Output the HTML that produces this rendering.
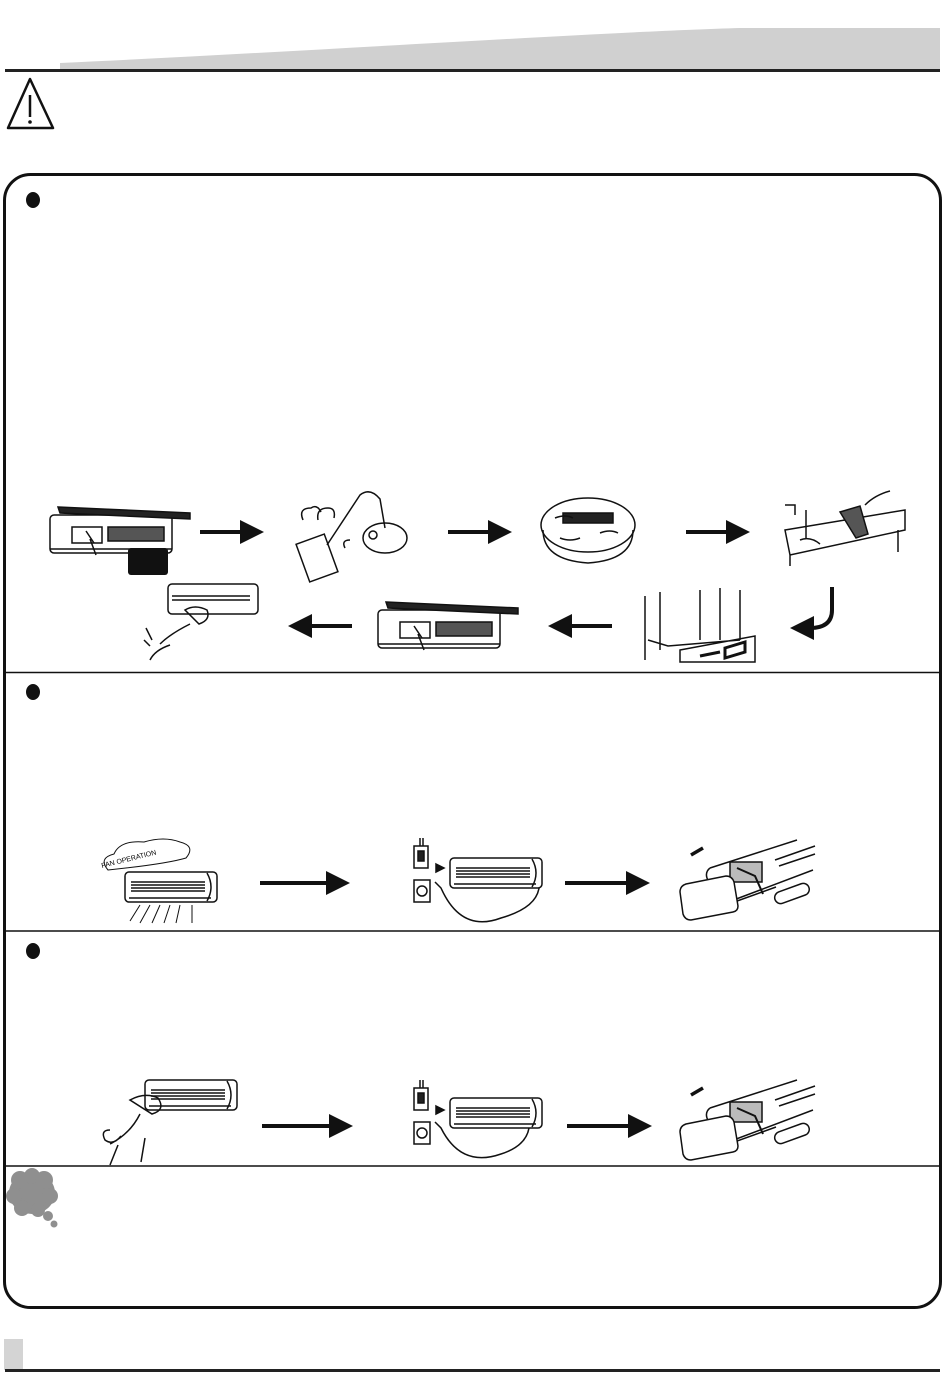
<!DOCTYPE html>
<html><head><meta charset="utf-8"><style>
html,body{margin:0;padding:0;background:#fff}
svg{display:block}
text{font-family:"Liberation Sans",sans-serif}
</style></head><body>
<svg width="950" height="1383" viewBox="0 0 950 1383" xmlns="http://www.w3.org/2000/svg">
<defs>
<marker id="ah" markerWidth="6" markerHeight="6" refX="1" refY="3" orient="auto" markerUnits="strokeWidth"><path d="M0,0 L6,3 L0,6 z" fill="#111"/></marker>
<g id="acopen" fill="none" stroke="#111" stroke-width="1.5">
<rect x="0" y="10" width="122" height="38" rx="4" fill="#fff"/>
<path d="M8 2 L140 8 L140 14 L10 8 Z" fill="#222"/>
<rect x="58" y="22" width="56" height="14" fill="#555"/>
<rect x="22" y="22" width="30" height="16"/>
<path d="M0 44 H122"/>
<path d="M36 26 l8 12 M40 34 l6 16"/>
</g>
<g id="acunit" fill="none" stroke="#111" stroke-width="1.5">
<rect x="0" y="0" width="92" height="30" rx="4" fill="#fff"/>
<path d="M82 1 q8 14 0 28"/>
<path d="M6 10 H80 M6 13 H80 M6 16 H80 M6 19 H80"/>
<path d="M4 26 H86"/>
</g>
<g id="remote" fill="none" stroke="#111" stroke-width="1.5">
<path d="M35 28 L122 0 M48 64 L138 30 M100 20 L140 6 M104 26 L140 14"/>
<path d="M35 28 q-5 4-3 10 l10 24 q3 5 9 3 l50 -18"/>
<rect x="55" y="22" width="32" height="20" fill="#bbb"/>
<path d="M62 28 l18 8 l8 18" stroke-width="2"/>
<rect x="98" y="54" width="36" height="12" rx="6" transform="rotate(-20 98 54)" fill="#fff"/>
<path d="M5 52 q0-6 6-8 l40-8 q6 0 8 6 l4 24 q0 5-5 6 l-42 8 q-6 0-8-6z" fill="#fff"/>
<path d="M28 8 l-12 7" stroke-width="3.5"/>
</g>
<g id="wall" fill="none" stroke="#111" stroke-width="1.5">
<rect x="0" y="0" width="14" height="22" fill="#fff"/>
<rect x="4" y="5" width="6" height="10" fill="#222"/>
<path d="M6 0 V-8 M9 0 V-8"/>
<rect x="0" y="34" width="16" height="22" fill="#fff"/>
<circle cx="8" cy="45" r="5"/>
<path d="M22 18 l8 4 l-8 4z" fill="#111"/>
</g>
</defs>

<!-- header -->
<path d="M60 63 C300 52 600 32 740 28 L940 28 L940 69 L60 69 Z" fill="#d0d0d0"/>
<rect x="5" y="69" width="935" height="3" fill="#222"/>
<path d="M30 79 L53 128 L8 128 Z" fill="none" stroke="#111" stroke-width="2.5" stroke-linejoin="round"/>
<path d="M30 95 V117" stroke="#111" stroke-width="2.5"/>
<circle cx="30" cy="122" r="1.8" fill="#111"/>

<!-- main box -->
<rect x="4.5" y="174.5" width="936" height="1133" rx="26" fill="none" stroke="#111" stroke-width="3"/>
<path d="M6 672.5 H939 M6 931 H939 M6 1166 H939" stroke="#111" stroke-width="1.5"/>
<ellipse cx="33" cy="200" rx="7" ry="8" fill="#111"/>
<ellipse cx="33" cy="692" rx="7" ry="8" fill="#111"/>
<ellipse cx="33" cy="951" rx="7" ry="8" fill="#111"/>

<!-- row 1 -->
<use href="#acopen" x="50" y="505"/>
<rect x="128" y="548" width="40" height="27" rx="3" fill="#111"/>
<g fill="none" stroke="#111" stroke-width="1.5">
<rect x="302" y="538" width="30" height="40" transform="rotate(-20 317 558)"/>
<path d="M327 545 L360 495 q10-8 20 4 L385 528"/>
<ellipse cx="385" cy="538" rx="22" ry="15"/>
<circle cx="373" cy="535" r="4"/>
<path d="M303 520 q-5-12 8-12 q6-4 10 4 M318 520 q-2-12 10-12 q8 0 6 10"/>
<path d="M345 548 q-4-8 5-8"/>
<ellipse cx="588" cy="525" rx="47" ry="27" fill="#fff"/>
<path d="M543 530 q0 30 45 33 q45-3 45-33"/>
<rect x="563" y="513" width="50" height="10" fill="#222"/>
<path d="M555 518 q10-4 18 0 M600 533 q10-4 18 0 M560 538 q10 4 20 0"/>
<path d="M785 530 L905 510 L905 530 L790 555 Z M790 555 V566 M898 530 V552 M785 505 h10 v10"/>
<path d="M806 510 v28"/>
<path d="M840 512 l20 -6 l8 28 l-12 4 z" fill="#555"/>
<path d="M865 505 q10-10 25-14"/>
<path d="M800 540 q10-4 20 4"/>
</g>
<path d="M200 532 H244" stroke="#111" stroke-width="4" marker-end="url(#ah)"/>
<path d="M448 532 H492" stroke="#111" stroke-width="4" marker-end="url(#ah)"/>
<path d="M686 532 H730" stroke="#111" stroke-width="4" marker-end="url(#ah)"/>

<!-- row 2 -->
<g fill="none" stroke="#111" stroke-width="1.5">
<rect x="168" y="584" width="90" height="30" rx="4" fill="#fff"/>
<path d="M172 596 H250 M172 600 H250"/>
<path d="M185 610 q10-6 22 0 q4 10-8 14 z M190 624 q-20 10-30 20 M150 660 q5-10 20-15 M152 640 l-6-12 M150 646 l-6-6"/>
<path d="M645 596 V660 M660 592 V650 M700 590 V640 M720 588 V640 M740 590 V640 M648 640 l20 6 L740 640 M680 650 L755 636 V662 H680Z"/>
<path d="M700 656 l20-4 M725 648 l20-6 v10 l-20 6 z" stroke-width="3"/>
</g>
<use href="#acopen" x="378" y="600"/>
<path d="M352 626 H308" stroke="#111" stroke-width="4" marker-end="url(#ah)"/>
<path d="M612 626 H568" stroke="#111" stroke-width="4" marker-end="url(#ah)"/>
<path d="M832 587 V610 q0 18-22 18" fill="none" stroke="#111" stroke-width="4" marker-end="url(#ah)"/>

<!-- section 2 -->
<use href="#acunit" x="125" y="872"/>
<path d="M108 870 q-10-12 6-16 q6-14 30-12 q20-6 36 0 q16 4 6 16 q-20 6-78 12z" fill="#fff" stroke="#111" stroke-width="1"/>
<text x="102" y="868" font-size="7" transform="rotate(-14 102 868)">FAN OPERATION</text>
<g stroke="#111" stroke-width="1" fill="none"><path d="M140 905 l-10 16 M150 905 l-10 18 M160 905 l-8 18 M170 905 l-6 18 M180 905 l-4 18 M192 905 l0 18"/></g>
<use href="#wall" x="414" y="846"/>
<use href="#acunit" x="450" y="858"/>
<path d="M435 882 l6 6 q20 45 60 30 q35-10 38-30" fill="none" stroke="#111" stroke-width="1.5"/>
<use href="#remote" x="675" y="840"/>
<path d="M260 883 H330" stroke="#111" stroke-width="4" marker-end="url(#ah)"/>
<path d="M565 883 H630" stroke="#111" stroke-width="4" marker-end="url(#ah)"/>

<!-- section 3 -->
<use href="#acunit" x="145" y="1080"/>
<g fill="none" stroke="#111" stroke-width="1.5">
<path d="M130 1100 q15-8 28-2 q8 12-6 16 z M140 1114 q-10 20-30 30 M110 1130 q-10 0-5 10 q8 6 16-4 M118 1145 l-8 20 M145 1138 l-4 24"/>
</g>
<use href="#wall" x="414" y="1088"/>
<use href="#acunit" x="450" y="1098"/>
<path d="M435 1122 l6 6 q20 40 60 26 q25-8 28-26" fill="none" stroke="#111" stroke-width="1.5"/>
<use href="#remote" x="675" y="1080"/>
<path d="M262 1126 H333" stroke="#111" stroke-width="4" marker-end="url(#ah)"/>
<path d="M567 1126 H632" stroke="#111" stroke-width="4" marker-end="url(#ah)"/>

<!-- note cloud -->
<g fill="#8f8f8f">
<ellipse cx="32" cy="1193" rx="23" ry="21"/>
<circle cx="20" cy="1180" r="9"/><circle cx="32" cy="1176" r="8"/><circle cx="44" cy="1180" r="9"/>
<circle cx="14" cy="1196" r="8"/><circle cx="50" cy="1196" r="8"/>
<circle cx="22" cy="1208" r="8"/><circle cx="38" cy="1210" r="7"/>
<circle cx="48" cy="1216" r="5"/>
<circle cx="54" cy="1224" r="3.5"/>
</g>

<!-- footer -->
<rect x="4" y="1339" width="19" height="31" fill="#d4d4d4"/>
<rect x="5" y="1369" width="935" height="3" fill="#222"/>
</svg>
</body></html>
